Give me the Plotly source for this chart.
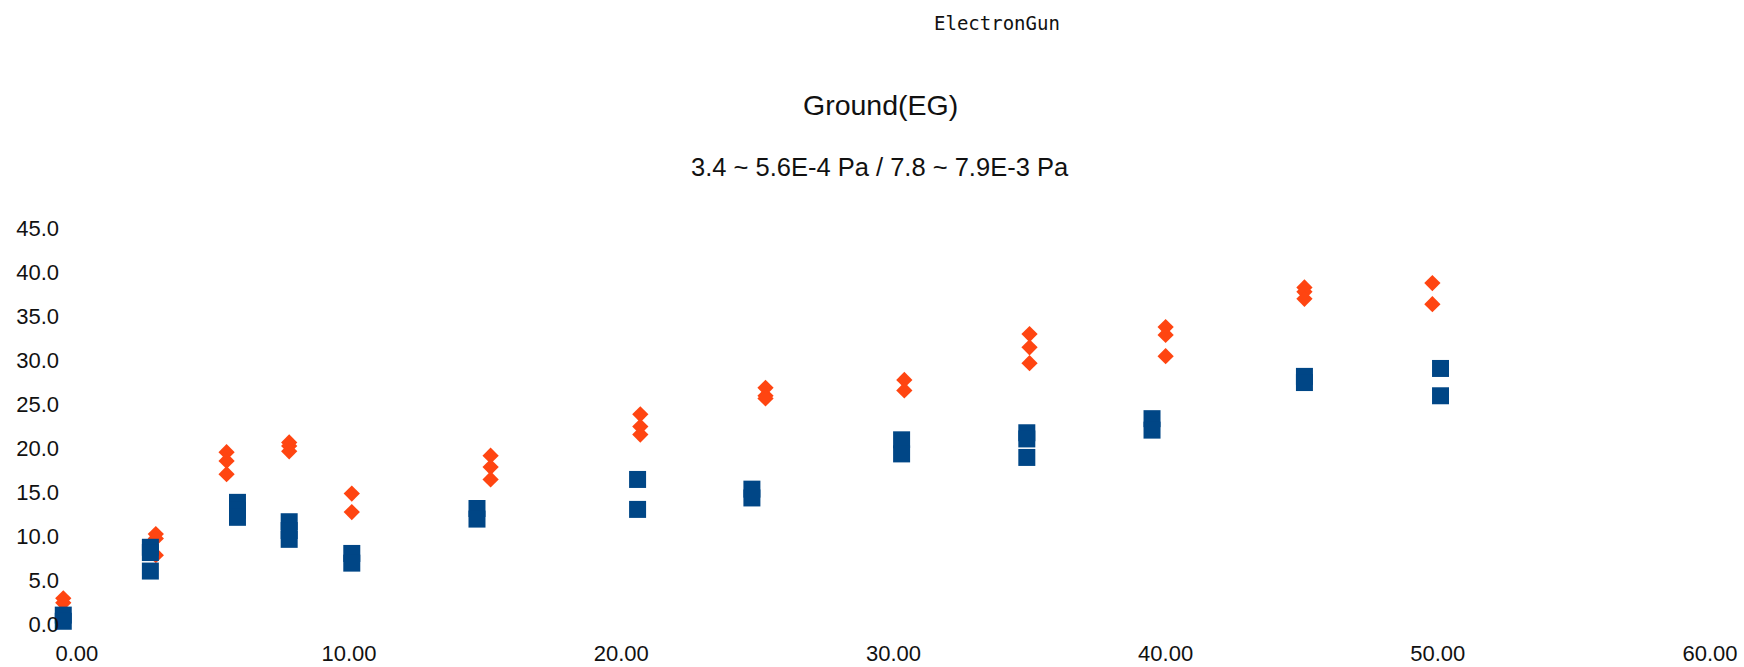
import plotly.graph_objects as go

# Measured points: upper series (orange diamonds) and lower series (blue squares)
upper_x = [-0.5, -0.5,
           2.9, 2.9, 2.9,
           5.5, 5.5, 5.5,
           7.8, 7.8, 7.8,
           10.1, 10.1,
           15.2, 15.2, 15.2,
           20.7, 20.7, 20.7,
           25.3, 25.3, 25.3,
           30.4, 30.4,
           35.0, 35.0, 35.0,
           40.0, 40.0, 40.0,
           45.1, 45.1, 45.1,
           49.8, 49.8]
upper_y = [3.0, 2.5,
           10.3, 9.8, 7.9,
           19.6, 18.6, 17.1,
           20.7, 20.3, 19.7,
           14.9, 12.8,
           19.2, 17.9, 16.5,
           23.9, 22.5, 21.6,
           26.9, 26.0, 25.7,
           27.8, 26.6,
           33.0, 31.5, 29.7,
           33.8, 32.9, 30.5,
           38.3, 37.8, 37.0,
           38.8, 36.4]

lower_x = [-0.5, -0.5,
           2.7, 2.7, 2.7,
           5.9, 5.9, 5.9,
           7.8, 7.8, 7.8,
           10.1, 10.1,
           14.7, 14.7,
           20.6, 20.6,
           24.8, 24.8,
           30.3, 30.3,
           34.9, 34.9, 34.9,
           39.5, 39.5,
           45.1, 45.1,
           50.1, 50.1]
lower_y = [1.1, 0.4,
           8.8, 8.2, 6.1,
           13.9, 13.0, 12.2,
           11.7, 10.7, 9.7,
           8.1, 7.0,
           13.2, 12.0,
           16.5, 13.1,
           15.4, 14.4,
           21.0, 19.4,
           21.8, 21.1, 19.0,
           23.4, 22.1,
           28.2, 27.5,
           29.1, 26.0]

x_ticks = [0, 10, 20, 30, 40, 50, 60]
y_ticks = [0, 5, 10, 15, 20, 25, 30, 35, 40, 45]

W, H = 1744, 667
ML, MR, MT, MB = 60, 34, 224, 29


def px_to_paper(px, py):
    pw = W - ML - MR
    ph = H - MT - MB
    return (px - ML) / pw, (H - MB - py) / ph


fig = go.Figure()
fig.add_trace(go.Scatter(
    x=upper_x, y=upper_y, mode="markers",
    marker=dict(symbol="diamond", size=12.5, color="#FF4511", line=dict(width=0)),
    cliponaxis=False, showlegend=False,
))
fig.add_trace(go.Scatter(
    x=lower_x, y=lower_y, mode="markers",
    marker=dict(symbol="square", size=17, color="#004686", line=dict(width=0)),
    cliponaxis=False, showlegend=False,
))

anns = []
for text, (px, py), fnt in [
    ("ElectronGun", (997, 23), dict(family="DejaVu Sans Mono", size=19, color="#111")),
    ("Ground(EG)", (880, 105), dict(family="Liberation Sans, Arial", size=28.5, color="#111")),
    ("3.4 ~ 5.6E-4 Pa / 7.8 ~ 7.9E-3 Pa", (880, 167), dict(family="Liberation Sans, Arial", size=25.5, color="#111")),
]:
    ax_, ay_ = px_to_paper(px, py)
    anns.append(dict(text=text, x=ax_, y=ay_, xref="paper", yref="paper",
                     xanchor="center", yanchor="middle", showarrow=False, font=fnt))

tick_font = dict(family="Liberation Sans, Arial", size=22, color="#111")
fig.update_layout(
    width=W, height=H,
    margin=dict(l=ML, r=MR, t=MT, b=MB, pad=0, autoexpand=False),
    paper_bgcolor="white", plot_bgcolor="white",
    annotations=anns,
    xaxis=dict(range=[-0.62, 60], tickvals=x_ticks,
               ticktext=[f"{v:.2f}" for v in x_ticks], automargin=False,
               showgrid=False, zeroline=False, showline=False, ticks="",
               tickfont=tick_font),
    yaxis=dict(range=[-1.5, 45.5], tickvals=y_ticks,
               ticktext=[f"{v:.1f}" for v in y_ticks], automargin=False,
               showgrid=False, zeroline=False, showline=False, ticks="",
               tickfont=tick_font),
    font=dict(family="Liberation Sans, Arial"),
)

fig.write_html("out.html")
